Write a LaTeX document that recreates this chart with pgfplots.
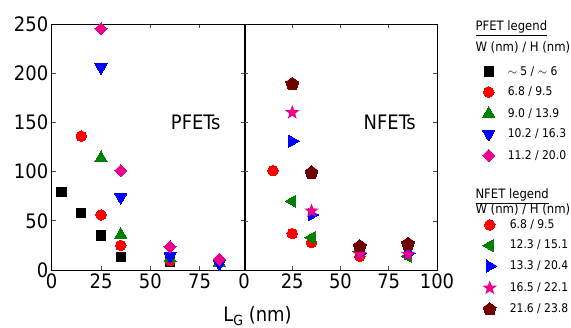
\documentclass[border=0pt]{standalone}
\usepackage{pgfplots}
\pgfplotsset{compat=1.18}
\usepackage{fontspec}
\setmainfont{DejaVu Sans Condensed}
\definecolor{mgreen}{RGB}{0,128,0}
\definecolor{maroonc}{RGB}{112,0,0}
\pgfdeclareplotmark{fstar}{%
 \pgfpathmoveto{\pgfpointpolar{90}{\pgfplotmarksize}}%
 \pgfpathlineto{\pgfpointpolar{126}{0.42\pgfplotmarksize}}%
 \pgfpathlineto{\pgfpointpolar{162}{\pgfplotmarksize}}%
 \pgfpathlineto{\pgfpointpolar{198}{0.42\pgfplotmarksize}}%
 \pgfpathlineto{\pgfpointpolar{234}{\pgfplotmarksize}}%
 \pgfpathlineto{\pgfpointpolar{270}{0.42\pgfplotmarksize}}%
 \pgfpathlineto{\pgfpointpolar{306}{\pgfplotmarksize}}%
 \pgfpathlineto{\pgfpointpolar{342}{0.42\pgfplotmarksize}}%
 \pgfpathlineto{\pgfpointpolar{18}{\pgfplotmarksize}}%
 \pgfpathlineto{\pgfpointpolar{54}{0.42\pgfplotmarksize}}%
 \pgfpathclose
 \pgfusepathqfill}
\pgfplotsset{
  panel/.style={
    anchor=south west, scale only axis, height=246bp,
    ymin=0, ymax=250, ytick={0,50,...,250},
    tick align=inside, major tick length=4bp,
    tick style={black!70, line width=0.6pt},
    axis line style={line width=0.9pt},
    ticklabel style={font=\fontsize{20}{20}\selectfont},
    /pgf/number format/assume math mode=true,
    clip=false,
    legend style={draw=none, fill=none, font=\fontsize{12}{12}\selectfont,
      nodes={inner sep=0pt, text height=9.5bp, text depth=2.5bp},
      row sep=8.5bp, column sep=13bp, cells={anchor=west}},
  },
}
\begin{document}
\begin{tikzpicture}
\begin{axis}[panel, at={(51.7bp,58bp)}, width=193.3bp, xmin=0, xmax=98,
  xtick={0,25,50,75},
  legend style={at={(2.213,0.84)}, anchor=north west},
  legend entries={{$\sim$ 5 / $\sim$ 6},{6.8 / 9.5},{9.0 / 13.9},{10.2 / 16.3},{11.2 / 20.0}}]
\addplot[only marks, mark=square*, mark size=4.6, mark options={fill=black, draw=black, line width=0pt}]
  coordinates {(5,79) (15,58) (25,35) (35,13) (60,8.5)};
\addplot[only marks, mark=*, mark size=5.3, mark options={fill=red, draw=red, line width=0pt}]
  coordinates {(15,136) (25,56) (35,25) (60,9.5)};
\addplot[only marks, mark=triangle*, mark size=7, mark options={fill=mgreen, draw=mgreen, line width=0pt}]
  coordinates {(25,114) (35,36) (60,12) (85,7.5)};
\addplot[only marks, mark=triangle*, mark size=7, mark options={fill=blue, draw=blue, line width=0pt, rotate=180}]
  coordinates {(25,206) (35,74) (60,14) (85,6.5)};
\addplot[only marks, mark=square*, mark size=4.3, mark options={fill=magenta, draw=magenta, line width=0pt, rotate=45}]
  coordinates {(25,245) (35,101) (60,23.5) (85,11)};
\node[font=\fontsize{20}{20}\selectfont] at (axis cs:73,150) {PFETs};
\end{axis}
\begin{axis}[panel, at={(244bp,58bp)}, width=193bp, xmin=0, xmax=100,
  xtick={0,25,50,75,100}, yticklabels={},
  legend style={at={(1.220,0.2167)}, anchor=north west},
  legend entries={{6.8 / 9.5},{12.3 / 15.1},{13.3 / 20.4},{16.5 / 22.1},{21.6 / 23.8}}]
\addplot[only marks, mark=*, mark size=5.3, mark options={fill=red, draw=red, line width=0pt}]
  coordinates {(15,101) (25,37) (35,28) (60,14)};
\addplot[only marks, mark=triangle*, mark size=7, mark options={fill=mgreen, draw=mgreen, line width=0pt, rotate=90}]
  coordinates {(25,70) (35,33) (60,19) (85,14)};
\addplot[only marks, mark=triangle*, mark size=7, mark options={fill=blue, draw=blue, line width=0pt, rotate=-90}]
  coordinates {(25,131) (35,56) (60,17) (85,17)};
\addplot[only marks, mark=fstar, mark size=7.5, mark options={fill=magenta, draw=magenta, line width=0pt}]
  coordinates {(25,160) (35,60) (60,16) (85,16)};
\addplot[only marks, mark=pentagon*, mark size=6.8, mark options={fill=maroonc, draw=maroonc, line width=0pt}]
  coordinates {(25,189) (35,99) (60,24) (85,26.5)};
\node[font=\fontsize{20}{20}\selectfont] at (axis cs:75.5,150) {NFETs};
\end{axis}
\node[anchor=base west, font=\fontsize{13}{13}\selectfont] at (472bp,297bp) {\underline{PFET legend}};
\node[anchor=base west, font=\fontsize{13}{13}\selectfont] at (472bp,276bp) {W (nm) / H (nm)};
\node[anchor=base west, font=\fontsize{13}{13}\selectfont] at (472bp,129bp) {\underline{NFET legend}};
\node[anchor=base west, font=\fontsize{13}{13}\selectfont] at (472bp,114.5bp) {W (nm) / H (nm)};
\node[anchor=base, font=\fontsize{20}{20}\selectfont] at (257.5bp,6.5bp) {L\raisebox{-3.5bp}{\fontsize{14}{14}\selectfont G} (nm)};
\pgfresetboundingbox
\useasboundingbox (0,0) rectangle (571bp,328bp);
\end{tikzpicture}
\end{document}
